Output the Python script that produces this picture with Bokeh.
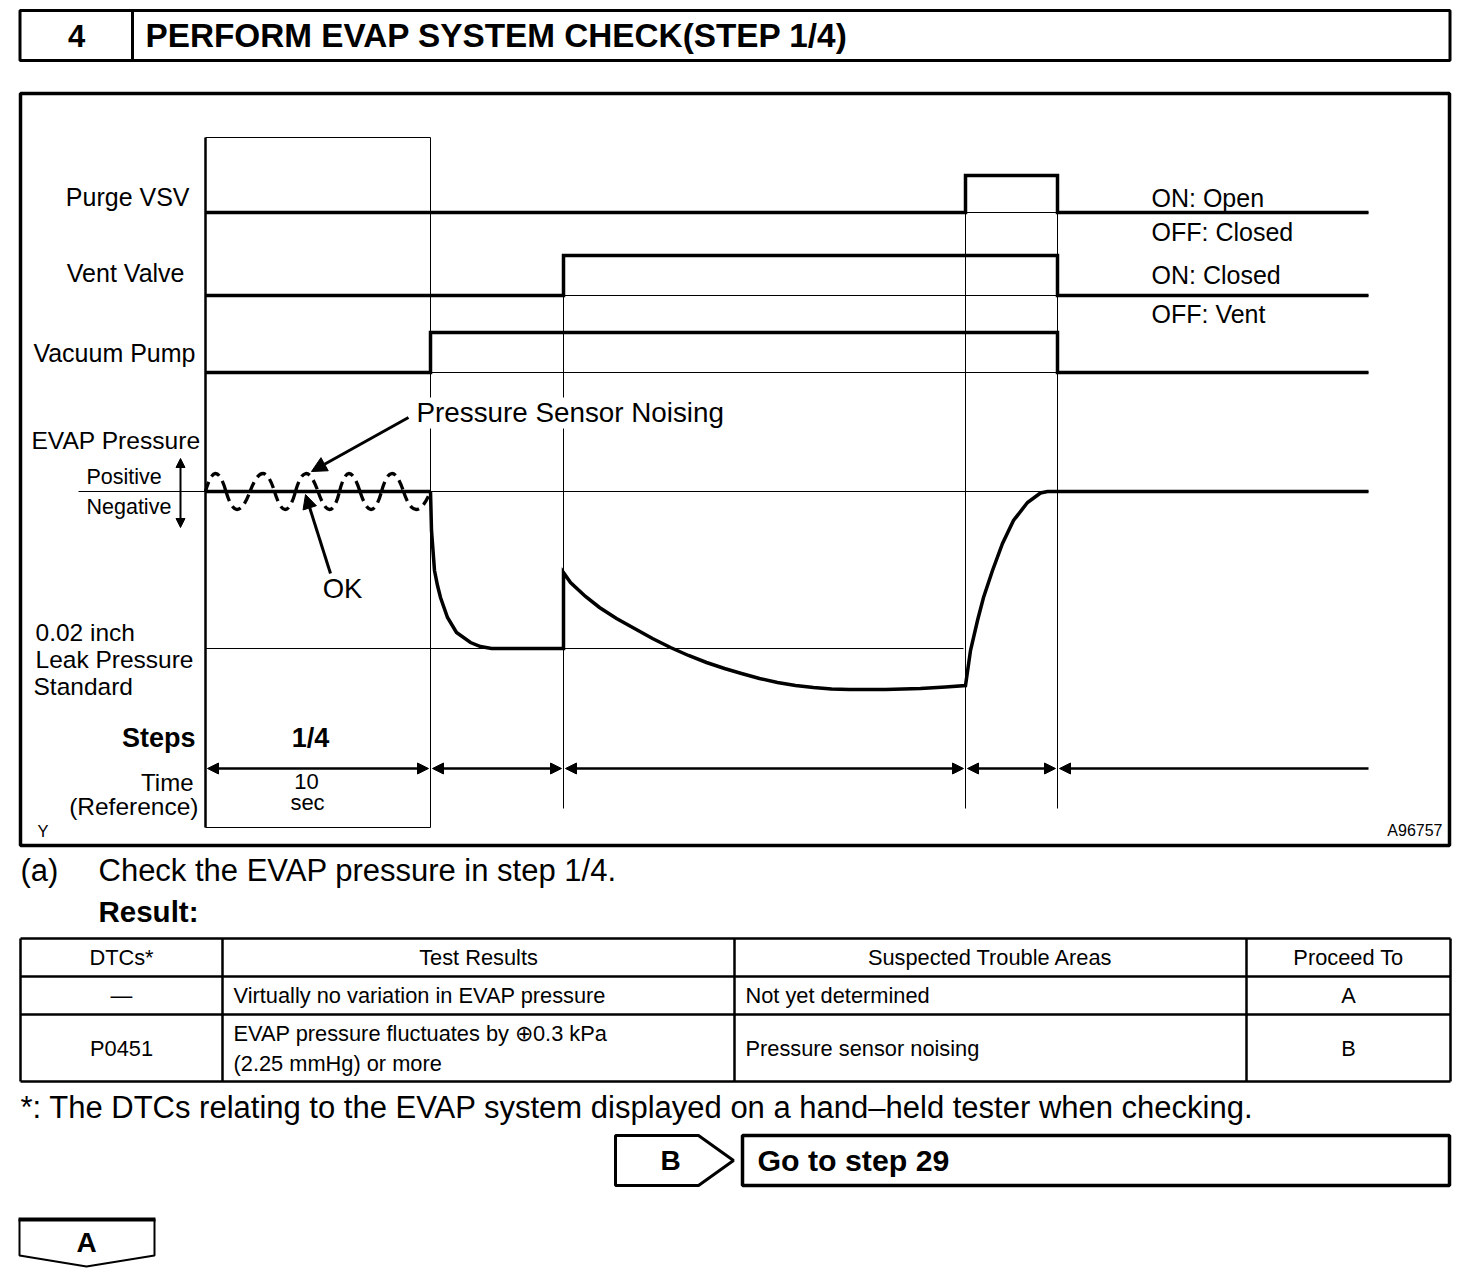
from bokeh.plotting import figure
from bokeh.models import Range1d, Arrow, NormalHead
from bokeh.core.properties import value
from bokeh.embed import file_html
from bokeh.resources import INLINE

# ---------------- data (diagram units) ----------------
# time boundaries of the test steps
step_bounds = [205, 430, 563, 965, 1057, 1368]
# ON/OFF timelines of the three actuators
purge_t = [205, 965, 965, 1057, 1057, 1368]
purge_on = [0, 0, 1, 1, 0, 0]
vent_t = [205, 563, 563, 1057, 1057, 1368]
vent_on = [0, 0, 1, 1, 0, 0]
pump_t = [205, 430, 430, 1057, 1057, 1368]
pump_on = [0, 0, 1, 1, 0, 0]
signal_names = ["Purge VSV", "Vent Valve", "Vacuum Pump"]
signal_states = [("ON: Open", "OFF: Closed"), ("ON: Closed", "OFF: Vent"), ("", "")]

# EVAP pressure trace: time and depth below atmospheric (positive = more vacuum)
pressure_t = [430, 430.5, 431, 434, 437, 440, 447, 456, 470, 480, 491, 563, 563, 570, 585,
              599, 616, 634, 652, 670, 688, 706, 724, 741, 759, 777, 795, 813, 831, 849,
              885, 920, 945, 965, 970, 977, 983, 992, 1002, 1013, 1027, 1040, 1047, 1368]
pressure_depth = [0, 19, 39, 79, 94, 106, 126, 141, 151, 155, 157, 157, 81, 91, 105,
                  116, 127, 137, 147, 156, 164, 171, 177, 182, 187, 191, 194, 196, 197.5, 198,
                  198, 197, 195.5, 194, 159, 129, 106, 79, 52, 29, 11, 1.5, 0, 0]
leak_standard_depth = 157

# pressure sensor noise in step 1/4: zero crossings and extreme points
noise_cross = [205, 225.5, 249.5, 274, 295, 317.5, 339, 359.5, 381, 403, 430]
noise_ext_t = [215, 236, 263, 285, 305, 330, 348, 371, 391, 415]
noise_amp = [18, -18, 18, -18, 18, -18, 18, -18, 18, -18]

# table
table_header = ["DTCs*", "Test Results", "Suspected Trouble Areas", "Proceed To"]
table_rows = [
    ["\u2014", ["Virtually no variation in EVAP pressure"], "Not yet determined", "A"],
    ["P0451", ["EVAP pressure fluctuates by \u22950.3 kPa", "(2.25 mmHg) or more"],
     "Pressure sensor noising", "B"],
]

# ---------------- figure ----------------
W, H = 1456, 1268
p = figure(width=W, height=H, x_range=Range1d(0, W), y_range=Range1d(H, 0),
           output_backend="svg", toolbar_location=None, min_border=0,
           x_axis_type=None, y_axis_type=None)
p.grid.visible = False
p.outline_line_color = None
p.background_fill_color = "white"
p.border_fill_color = "white"

FONT = "Liberation Sans"


def T(x, y, s, size, align="left", bold=False):
    p.text(x=[x], y=[y], text=[s], text_font=value(FONT), text_font_size=f"{size}px",
           text_align=align, text_baseline="middle",
           text_font_style="bold" if bold else "normal", text_color="black")


def L(xs, ys, w=1.0):
    p.line(xs, ys, line_color="black", line_width=w, line_join="miter")


# header
p.rect(x=[734.5], y=[35], width=[1430], height=[50], fill_color="white",
       line_color="black", line_width=3)
L([132, 132], [10, 60], 3)
T(76, 35, "4", 31, "center", True)
T(145, 35, "PERFORM EVAP SYSTEM CHECK(STEP 1/4)", 33.3, "left", True)

# main diagram frame
p.rect(x=[734.5], y=[469], width=[1429], height=[752], fill_color="white",
       line_color="black", line_width=3.5)

# step 1/4 box and guide lines
x0, x1, x2, x3, x4, x5 = step_bounds
L([x0, x1], [137, 137], 1)
L([x0, x1], [827, 827], 1)
L([x1, x1], [137, 827], 1)
L([x0, x0], [137, 827], 2.5)
L([x2, x2], [255, 808], 1)
L([x3, x3], [175, 808], 1)
L([x4, x4], [175, 808], 1)

# actuator signals
bases = [212, 295, 372]
rise = [37, 40, 40]
for (tt, st), base, h in zip([(purge_t, purge_on), (vent_t, vent_on), (pump_t, pump_on)], bases, rise):
    L([tt[0], tt[-1]], [base, base], 1)
    L(tt, [base - s * h for s in st], 3.5)

T(189, 196, signal_names[0], 25, "right")
T(184, 272, signal_names[1], 25, "right")
T(195, 352, signal_names[2], 25, "right")
T(1151, 197, signal_states[0][0], 25)
T(1151, 231, signal_states[0][1], 25)
T(1151, 274, signal_states[1][0], 25)
T(1151, 313, signal_states[1][1], 25)

# EVAP pressure
zero_y = 491
L([78, x5], [zero_y, zero_y], 1)
L([x0, x3 - 2], [zero_y + leak_standard_depth] * 2, 1)
L([x0, x1], [zero_y, zero_y], 3.5)
L(pressure_t, [zero_y + d for d in pressure_depth], 3.5)

# noise (dashed)
p.quadratic(x0=noise_cross[:-1], y0=[zero_y] * len(noise_ext_t),
            x1=noise_cross[1:], y1=[zero_y] * len(noise_ext_t),
            cx=noise_ext_t, cy=[zero_y - 2 * a for a in noise_amp],
            line_color="black", line_width=3.3, line_dash="10 6")

# positive / negative arrow
p.add_layout(Arrow(start=NormalHead(size=9, fill_color="black", line_color="black"),
                   end=NormalHead(size=9, fill_color="black", line_color="black"),
                   x_start=180, y_start=458, x_end=180, y_end=527, line_width=2))
T(200, 440, "EVAP Pressure", 24.6, "right")
T(86, 476, "Positive", 21.5)
T(86, 506, "Negative", 21.5)

# callouts
p.quad(left=[412], right=[728], top=[397], bottom=[428], fill_color="white", line_color=None)
p.add_layout(Arrow(end=NormalHead(size=15, fill_color="black", line_color="black"),
                   x_start=408, y_start=417, x_end=311, y_end=471, line_width=3))
T(416, 412, "Pressure Sensor Noising", 27.8)
p.add_layout(Arrow(end=NormalHead(size=14, fill_color="black", line_color="black"),
                   x_start=330, y_start=573, x_end=305, y_end=494, line_width=3))
T(342, 588, "OK", 27.5, "center")

T(35, 632, "0.02 inch", 24.5)
T(35, 659, "Leak Pressure", 24.5)
T(33, 686, "Standard", 24.5)

T(195, 737, "Steps", 27, "right", True)
T(310, 737, "1/4", 27, "center", True)
T(193, 782, "Time", 24, "right")
T(198, 806, "(Reference)", 24.5, "right")
T(306, 781, "10", 22, "center")
T(307, 802, "sec", 22, "center")
T(37, 830, "Y", 16.5)
T(1442, 830, "A96757", 16, "right")

# time arrows
arrow_y = 768
for i in range(len(step_bounds) - 1):
    a, b = step_bounds[i], step_bounds[i + 1]
    last = i == len(step_bounds) - 2
    p.add_layout(Arrow(start=NormalHead(size=11, fill_color="black", line_color="black"),
                       end=None if last else NormalHead(size=11, fill_color="black", line_color="black"),
                       x_start=a + 2, y_start=arrow_y, x_end=b if last else b - 2, y_end=arrow_y,
                       line_width=2.5))

# ---------------- text below diagram ----------------
T(20, 870, "(a)", 31)
T(98, 870, "Check the EVAP pressure in step 1/4.", 31)
T(98, 911, "Result:", 29.5, "left", True)

col_x = [20, 222, 734, 1246, 1450]
row_y = [938, 976, 1014, 1081]
for y in row_y:
    L([col_x[0], col_x[-1]], [y, y], 2.5)
for x in col_x:
    L([x, x], [row_y[0], row_y[-1]], 2.5)
for i, h in enumerate(table_header):
    T((col_x[i] + col_x[i + 1]) / 2, 957, h, 21.8, "center")
for r, row in enumerate(table_rows):
    ymid = (row_y[r + 1] + row_y[r + 2]) / 2
    T((col_x[0] + col_x[1]) / 2, ymid, row[0], 21.8, "center")
    lines = row[1]
    if len(lines) == 1:
        T(col_x[1] + 11, ymid, lines[0], 21.8)
    else:
        T(col_x[1] + 11, ymid - 15, lines[0], 21.8)
        T(col_x[1] + 11, ymid + 15, lines[1], 21.8)
    T(col_x[2] + 11, ymid, row[2], 21.8)
    T((col_x[3] + col_x[4]) / 2, ymid, row[3], 21.8, "center")

T(20, 1107, "*: The DTCs relating to the EVAP system displayed on a hand\u2013held tester when checking.", 31)

# B / Go to step 29
p.patch([615, 698, 733, 698, 615], [1135, 1135, 1160, 1185, 1185], fill_color="white",
        line_color="black", line_width=3)
T(670, 1160, "B", 28, "center", True)
p.rect(x=[1095.5], y=[1160], width=[707], height=[50], fill_color="white",
       line_color="black", line_width=3.5)
T(757, 1160, "Go to step 29", 30.3, "left", True)

# A
p.patch([19, 154, 154, 86, 19], [1219, 1219, 1255, 1266, 1255], fill_color="white",
        line_color="black", line_width=2)
L([18, 155], [1219, 1219], 4)
T(86, 1242, "A", 28, "center", True)

open("out.html", "w").write(file_html(p, INLINE))
